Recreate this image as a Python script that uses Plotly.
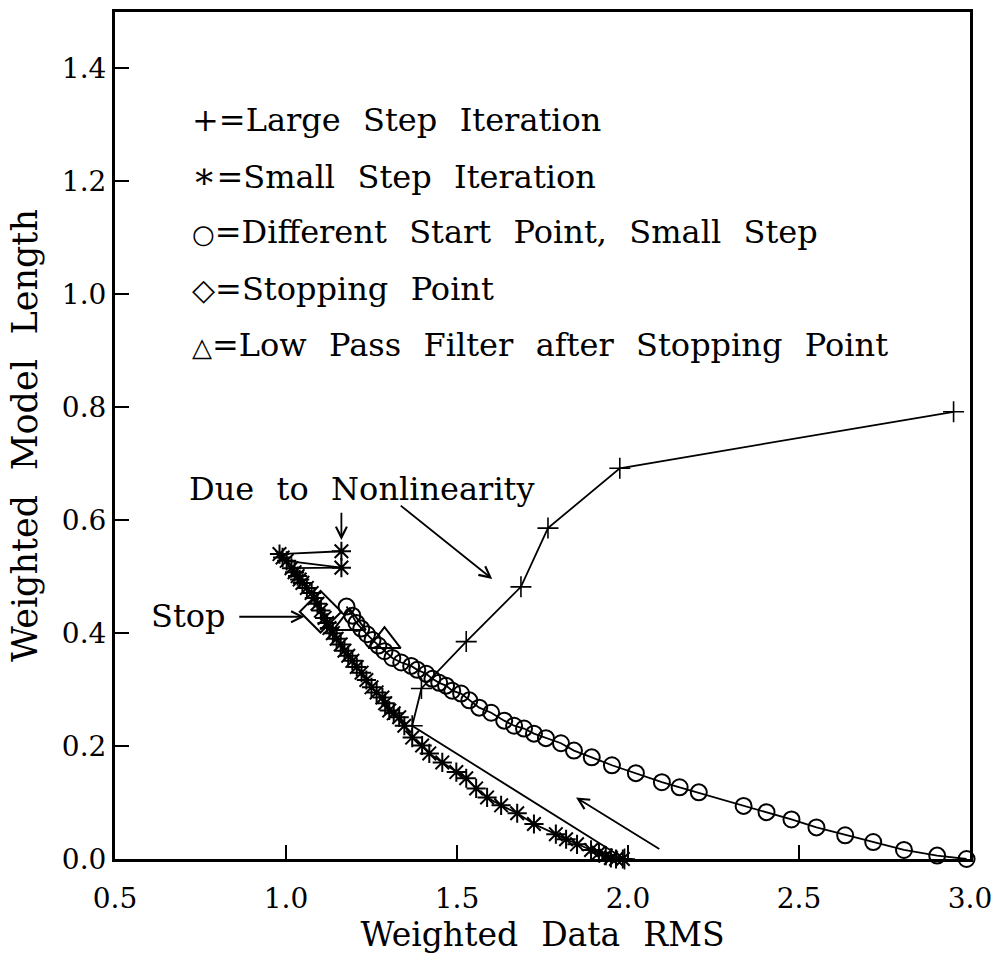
import plotly.graph_objects as go

# ---------------- data ----------------
large_x = [1.99, 1.369, 1.396, 1.527, 1.687, 1.766, 1.976, 2.952]
large_y = [0.0, 0.236, 0.302, 0.385, 0.482, 0.586, 0.692, 0.792]

small_x = [1.985, 1.965, 1.950, 1.935, 1.915, 1.892, 1.851, 1.819, 1.789, 1.725, 1.676,
           1.629, 1.588, 1.556, 1.527, 1.498, 1.457, 1.419, 1.398, 1.369, 1.346,
           1.331, 1.315, 1.302, 1.290, 1.282, 1.265, 1.250, 1.235, 1.221, 1.207,
           1.194, 1.182, 1.171, 1.160, 1.148, 1.137, 1.127, 1.120, 1.113, 1.102,
           1.092, 1.083, 1.075, 1.061, 1.048, 1.040, 1.034, 1.025, 1.016, 1.162,
           1.002, 0.990, 0.981, 1.162]
small_y = [0.0, 0.0, 0.002, 0.006, 0.011, 0.016, 0.026, 0.035, 0.044, 0.062, 0.081,
           0.095, 0.109, 0.125, 0.143, 0.154, 0.171, 0.187, 0.201, 0.215, 0.236,
           0.251, 0.258, 0.263, 0.276, 0.286, 0.295, 0.304, 0.317, 0.330, 0.340,
           0.351, 0.360, 0.369, 0.380, 0.390, 0.400, 0.409, 0.418, 0.427, 0.440,
           0.452, 0.462, 0.471, 0.480, 0.489, 0.495, 0.501, 0.508, 0.515, 0.516,
           0.528, 0.534, 0.540, 0.545]

circ_x = [2.99, 2.904, 2.807, 2.717, 2.635, 2.551, 2.478, 2.405, 2.338, 2.207,
          2.151, 2.099, 2.023, 1.953, 1.894, 1.842, 1.804, 1.760, 1.725, 1.696,
          1.667, 1.638, 1.600, 1.565, 1.536, 1.512, 1.486, 1.468, 1.448, 1.428,
          1.410, 1.384, 1.366, 1.337, 1.311, 1.288, 1.270, 1.253, 1.237, 1.220,
          1.206, 1.194, 1.177]
circ_y = [0.0, 0.006, 0.016, 0.030, 0.042, 0.056, 0.070, 0.083, 0.094, 0.118,
          0.127, 0.136, 0.152, 0.166, 0.180, 0.192, 0.205, 0.214, 0.222, 0.231,
          0.236, 0.245, 0.259, 0.268, 0.281, 0.293, 0.298, 0.307, 0.312, 0.319,
          0.328, 0.335, 0.342, 0.348, 0.356, 0.368, 0.378, 0.388, 0.398, 0.408,
          0.418, 0.431, 0.447]

stop_x = [1.101]
stop_y = [0.438]

lowpass_x = [1.186, 1.288]
lowpass_y = [0.418, 0.386]

SP = "\u2002\u2009"   # wide word gap as in the original lettering
legend_symbols = ["+",
                  "<span style='font-size:36px'>\u2217</span>",
                  "<span style='font-size:26px'>\u25CB</span>",
                  "<span style='font-size:30px'>\u25C7</span>",
                  "<span style='font-size:26px'>\u25B3</span>"]
legend_texts = ["=Large Step Iteration",
                "=Small Step Iteration",
                "=Different Start Point, Small Step",
                "=Stopping Point",
                "=Low Pass Filter after Stopping Point"]

x_ticks = [0.5, 1.0, 1.5, 2.0, 2.5, 3.0]
y_ticks = [0.0, 0.2, 0.4, 0.6, 0.8, 1.0, 1.2, 1.4]

FONT = "DejaVu Serif"
BLACK = "black"
TXT = 32

fig = go.Figure()

fig.add_trace(go.Scatter(x=large_x, y=large_y, mode="lines+markers",
                         line=dict(color=BLACK, width=1.8),
                         marker=dict(symbol="cross-thin-open", size=15, color=BLACK,
                                     line=dict(color=BLACK, width=1.6)),
                         cliponaxis=False, showlegend=False))
fig.add_trace(go.Scatter(x=small_x, y=small_y, mode="lines+markers",
                         line=dict(color=BLACK, width=1.8),
                         marker=dict(symbol="asterisk-open", size=16, color=BLACK,
                                     line=dict(color=BLACK, width=2)),
                         cliponaxis=False, showlegend=False))
fig.add_trace(go.Scatter(x=circ_x, y=circ_y, mode="lines+markers",
                         line=dict(color=BLACK, width=1.8),
                         marker=dict(symbol="circle-open", size=16, color=BLACK,
                                     line=dict(color=BLACK, width=2)),
                         cliponaxis=False, showlegend=False))
fig.add_trace(go.Scatter(x=stop_x, y=stop_y, mode="markers",
                         marker=dict(symbol="diamond-open", size=32, color=BLACK,
                                     line=dict(color=BLACK, width=2)),
                         cliponaxis=False, showlegend=False))
fig.add_trace(go.Scatter(x=lowpass_x, y=lowpass_y, mode="markers",
                         marker=dict(symbol="triangle-up-open", size=28, color=BLACK,
                                     line=dict(color=BLACK, width=2)),
                         cliponaxis=False, showlegend=False))

annotations = []
legend_x = 0.719
legend_y = [1.308, 1.211, 1.110, 1.009, 0.911]
for sym, txt, yy in zip(legend_symbols, legend_texts, legend_y):
    annotations.append(dict(x=legend_x, y=yy, xref="x", yref="y",
                            text=sym + txt.replace(" ", SP),
                            showarrow=False, xanchor="left", yanchor="middle",
                            font=dict(family=FONT, size=TXT, color=BLACK)))

annotations.append(dict(x=1.223, y=0.656, xref="x", yref="y",
                        text="Due to Nonlinearity".replace(" ", SP), showarrow=False,
                        font=dict(family=FONT, size=TXT, color=BLACK)))
annotations.append(dict(x=0.716, y=0.431, xref="x", yref="y",
                        text="Stop", showarrow=False,
                        font=dict(family=FONT, size=TXT, color=BLACK)))

arrows = [
    ((1.603, 0.496), (1.331, 0.628)),
    ((1.162, 0.565), (1.162, 0.616)),
    ((1.054, 0.429), (0.859, 0.429)),
    ((1.848, 0.109), (2.096, 0.016)),
]
for (hx, hy), (tx, ty) in arrows:
    annotations.append(dict(x=hx, y=hy, ax=tx, ay=ty, xref="x", yref="y",
                            axref="x", ayref="y", text="", showarrow=True,
                            arrowhead=5, arrowsize=1.2, arrowwidth=1.8,
                            arrowcolor=BLACK, standoff=0, startstandoff=0))

fig.update_layout(
    width=1001, height=959,
    margin=dict(l=115, r=29, t=9, b=100),
    paper_bgcolor="white", plot_bgcolor="white",
    annotations=annotations,
    font=dict(family=FONT, size=27, color=BLACK),
)
fig.update_xaxes(range=[0.5, 3.0], tickvals=x_ticks,
                 ticktext=[f"{v:.1f}" for v in x_ticks],
                 ticks="inside", ticklen=14, tickwidth=2, tickcolor=BLACK,
                 showline=True, linewidth=3, linecolor=BLACK, mirror=True,
                 showgrid=False, zeroline=False, ticklabelstandoff=12,
                 tickfont=dict(family=FONT, size=28, color=BLACK),
                 title=dict(text="Weighted Data RMS".replace(" ", SP),
                            font=dict(family=FONT, size=33, color=BLACK),
                            standoff=6))
fig.update_yaxes(range=[0.0, 1.5], tickvals=y_ticks,
                 ticktext=[f"{v:.1f}" for v in y_ticks],
                 ticks="inside", ticklen=14, tickwidth=2, tickcolor=BLACK,
                 showline=True, linewidth=3, linecolor=BLACK, mirror=True,
                 showgrid=False, zeroline=False,
                 tickfont=dict(family=FONT, size=28, color=BLACK),
                 title=dict(text="Weighted Model Length".replace(" ", SP),
                            font=dict(family=FONT, size=35, color=BLACK),
                            standoff=14))

fig.write_html("out.html")
